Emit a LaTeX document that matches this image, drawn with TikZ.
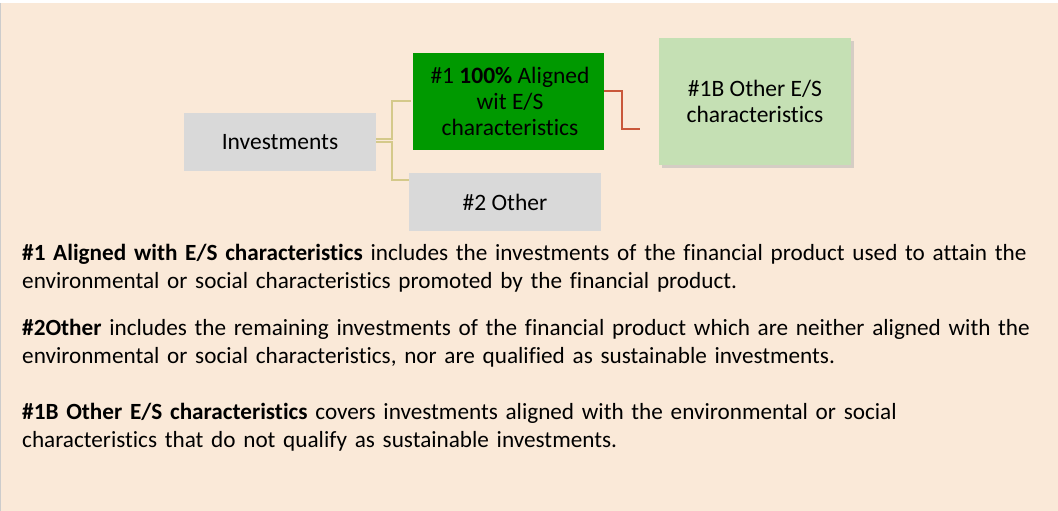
\documentclass[tikz,border=0pt]{standalone}
\usepackage{fontspec}
\setmainfont[Ligatures={NoCommon}]{Carlito}
\usetikzlibrary{shadows}
\definecolor{bgc}{HTML}{FAE9D8}
\definecolor{greybox}{HTML}{D9D9D9}
\definecolor{darkgreen}{HTML}{009900}
\definecolor{lightgreen}{HTML}{C5E0B4}
\definecolor{khaki}{HTML}{D4C98A}
\definecolor{redline}{HTML}{C9573A}
\begin{document}
\begin{tikzpicture}[x=1pt,y=-1pt,
  box/.style={draw=none,inner sep=0pt,align=center,font=\fontsize{23.5}{26}\selectfont},
  bodytext/.style={anchor=north west,inner sep=0pt,align=left,text width=1034pt,font=\fontsize{23.2}{28.5}\selectfont},
  khakiline/.style={draw=khaki,line width=1.2pt},
  redconn/.style={draw=redline,line width=1.4pt}]
\useasboundingbox (0,0) rectangle (1058,511);
\fill[bgc] (0,3) rectangle (1058,511);
\draw[gray!40,line width=0.6pt] (0.3,3) -- (0.3,511);
% boxes
\fill[greybox] (184,113) rectangle (376,171);
\node[box] (inv) at (280,142) {Investments};
\fill[darkgreen] (413,53) rectangle (604,150);
\node[box] (al) at (510,101) {\#1 \textbf{100\%} Aligned\\wit E/S\\characteristics};
\fill[greybox] (409,173) rectangle (601,231);
\node[box] (oth) at (505,202) {\#2 Other};
\fill[black!30,opacity=0.5] (662,41) rectangle (854,168);
\fill[lightgreen] (659,38) rectangle (851,165);
\node[box] (ob) at (755,101) {\#1B Other E/S\\characteristics};
% connectors
\coordinate (c1) at (376,139);
\coordinate (c2) at (376,142);
\coordinate (t1) at (411,101);
\coordinate (t2) at (409,180);
\draw[khakiline] (c1) -- (392,139) -- (392,101) -- (t1);
\draw[khakiline] (c2) -- (392,142) -- (392,180) -- (t2);
\coordinate (r1) at (604,91);
\coordinate (r2) at (640,129);
\draw[redconn] (r1) -- (622,91) -- (622,129) -- (r2);
% texts
\node[bodytext] (p1) at (22,244) {\textbf{\#1 Aligned with E/S characteristics} includes the investments of the financial product used to attain the\\environmental or social characteristics promoted by the financial product.};
\node[bodytext] (p2) at (22,319) {\textbf{\#2Other} includes the remaining investments of the financial product which are neither aligned with the\\environmental or social characteristics, nor are qualified as sustainable investments.};
\node[bodytext] (p3) at (22,403) {\textbf{\#1B Other E/S characteristics} covers investments aligned with the environmental or social\\characteristics that do not qualify as sustainable investments.};
\end{tikzpicture}
\end{document}
